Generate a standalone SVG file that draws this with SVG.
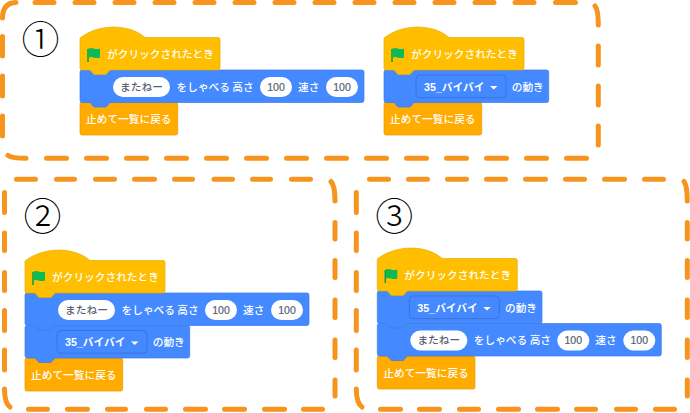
<svg xmlns="http://www.w3.org/2000/svg" width="690" height="413" viewBox="0 0 690 413">
<style>
text{font-family:"Noto Sans CJK JP","Liberation Sans",sans-serif;font-size:10.7px;fill:#fff;font-weight:500}
.dash{fill:none;stroke:#F7941D;stroke-width:5;stroke-linecap:round}
.hat{fill:#FFBF00;stroke:#E6AC00;stroke-width:.7}
.blue{fill:#4489FF;stroke:#3C7BE6;stroke-width:.7}
.stop{fill:#FFAB00;stroke:#E69A00;stroke-width:.7}
.gray{fill:#575E75;text-anchor:middle}
.num{font-family:"Liberation Sans",sans-serif;font-size:10.5px;fill:#575E75;text-anchor:middle;stroke:#575E75;stroke-width:.2}
.dd{fill:#4489FF;stroke:#3A74D9;stroke-width:1}
.ddt{font-family:"Liberation Sans","Noto Sans CJK JP",sans-serif;font-weight:700;font-size:10.7px}
.digit{font-family:"Noto Sans CJK JP",sans-serif;font-size:38px;fill:#000;font-weight:300;text-anchor:middle}
</style>
<defs>
<path id="hatShape" d="M0 0C18-14 48-15 65-.5H138Q140-.5 140 1.500V30Q140 32 138 32H30L26 36.500H14L10 32H2Q0 32 0 30Z"/>
<path id="speakShape" d="M2 0H282Q284 0 284 2V30Q284 32.500 282 32.500H30L26 37H14L10 32.500H2Q0 32.500 0 30V2Q0 0 2 0Z"/>
<path id="moveShape" d="M2 0H162.700Q164.700 0 164.700 2V30Q164.700 32.500 162.700 32.500H30L26 37H14L10 32.500H2Q0 32.500 0 30V2Q0 0 2 0Z"/>
<path id="stopShape" d="M2 0H95.700Q97.700 0 97.700 2V31Q97.700 33 95.700 33H2Q0 33 0 31V2Q0 0 2 0Z"/>
<g id="flag"><path d="M1 2V15" stroke="#0A9A45" stroke-width="1.500" fill="none"/><path d="M1.500 1.500C5 -.5 8 3.500 13 1.500V10.500C8 12.500 5 8.500 1.500 10.500Z" fill="#0CBB55"/></g>
</defs>
<g id="panels">
<path id="panel-1" class="dash" d="M2.500 18Q2.500 3 16 2.500M35 2.500H54M75 2.500H94M115 2.500H134M155 2.500H174M195 2.500H214M235 2.500H254M275 2.500H294M315 2.500H334M355 2.500H374M395 2.500H414M435 2.500H454M475 2.500H494M515 2.500H534M555.500 2.500H575.500M595 6Q598.300 10 598.300 25M598.300 46V65M598.300 86V105M598.300 126V145M586.500 158.300H566.500M546.500 158.300H526.500M506.500 158.300H486.500M466.500 158.300H446.500M426.500 158.300H406.500M386.500 158.300H366.500M346.500 158.300H326.500M306.500 158.300H286.500M266.500 158.300H246.500M226.500 158.300H206.500M186.500 158.300H166.500M146.500 158.300H126.500M106.500 158.300H86.500M66.500 158.300H46.500M26 158.300Q12 158.300 8 155.500M2.500 136V116M2.500 96V76M2.500 56V36.500"/>
<path id="panel-2" class="dash" d="M16.500 179.300H35.500M56.500 179.300H74.500M95.500 179.300H114.500M134.500 179.300H154.500M174.500 179.300H192.500M214 179.300H232.500M252.500 179.300H270.500M291.500 179.300H310.500M331 181.500Q335 186 335 201M335 222.500V239M335 260.500V277.500M335 300V317.500M335 340V357.500M335 380V396M322.500 409.300H303.500M284.500 409.300H264.500M244.500 409.300H224.500M205.500 409.300H185.500M165.500 409.300H146.500M125.500 409.300H107.500M87.500 409.300H67.500M47.500 409.300H28.500M10 407Q4.500 403 4.500 389M4.500 370V350M4.500 330.500V310.500M4.500 290.500V272.500M4.500 250.500V233M4.500 212.500V192.500"/>
<path id="panel-3" class="dash" d="M369.500 179.300H388.500M408.500 179.300H427.500M447.500 179.300H466.500M486.500 179.300H505.500M525.500 179.300H545.500M565.500 179.300H584.500M604.500 179.300H624.500M644.500 179.300H663.500M684 181.500Q687.300 186 687.300 201M687.300 222.500V239M687.300 260.500V277.500M687.300 300V317.500M687.300 340V357.500M687.300 380V396M674.500 409.300H655.500M635.500 409.300H616.500M595.500 409.300H576.500M557.500 409.300H537.500M518.500 409.300H498.500M478.500 409.300H459.500M439.500 409.300H419.500M400.500 409.300H380.500M362 407Q356.300 403 356.300 389M356.300 370V350M356.300 330.500V310.500M356.300 290.500V272.500M356.300 250.500V233M356.300 212.500V192.500"/>
</g>
<g id="label-1"><text class="digit" x="40.500" y="52.500">①</text></g>
<g id="label-2"><text class="digit" x="42.500" y="230">②</text></g>
<g id="label-3"><text class="digit" x="394.300" y="230">③</text></g>

<g id="stack-1a" transform="translate(80 38)">
<g id="s1a-stop" transform="translate(0 64)"><use href="#stopShape" class="stop"/><text x="6" y="20.500">止めて一覧に戻る</text></g>
<g id="s1a-speak" transform="translate(0 32)"><use href="#speakShape" class="blue"/><rect x="33" y="7" width="57" height="20" rx="10" fill="#fff"/><text class="gray" x="61.500" y="20.500">またねー</text><text x="96.500" y="20.500">をしゃべる 高さ</text><rect x="180" y="7" width="32" height="20" rx="10" fill="#fff"/><text class="num" x="196" y="20.800">100</text><text x="218" y="20.500">速さ</text><rect x="246" y="7" width="32" height="20" rx="10" fill="#fff"/><text class="num" x="262" y="20.800">100</text></g>
<g id="s1a-hat"><use href="#hatShape" class="hat"/><use href="#flag" x="7" y="9"/><text x="27" y="20">がクリックされたとき</text></g>
</g>

<g id="stack-1b" transform="translate(384 38)">
<g id="s1b-stop" transform="translate(0 64)"><use href="#stopShape" class="stop"/><text x="6" y="20.500">止めて一覧に戻る</text></g>
<g id="s1b-move" transform="translate(0 32)"><use href="#moveShape" class="blue"/><rect x="32" y="5" width="90" height="22.700" rx="4" class="dd"/><text class="ddt" x="40" y="20.500">35_バイバイ</text><path d="M106 16H113.500L109.700 19.500Z" fill="#fff"/><text x="127.700" y="20.500">の動き</text></g>
<g id="s1b-hat"><use href="#hatShape" class="hat"/><use href="#flag" x="7" y="9"/><text x="27" y="20">がクリックされたとき</text></g>
</g>

<g id="stack-2" transform="translate(25 261)">
<g id="s2-stop" transform="translate(0 97)"><use href="#stopShape" class="stop"/><text x="6" y="20.500">止めて一覧に戻る</text></g>
<g id="s2-move" transform="translate(0 64.500)"><use href="#moveShape" class="blue"/><rect x="32" y="5" width="90" height="22.700" rx="4" class="dd"/><text class="ddt" x="40" y="20.500">35_バイバイ</text><path d="M106 16H113.500L109.700 19.500Z" fill="#fff"/><text x="127.700" y="20.500">の動き</text></g>
<g id="s2-speak" transform="translate(0 32)"><use href="#speakShape" class="blue"/><rect x="33" y="7" width="57" height="20" rx="10" fill="#fff"/><text class="gray" x="61.500" y="20.500">またねー</text><text x="96.500" y="20.500">をしゃべる 高さ</text><rect x="180" y="7" width="32" height="20" rx="10" fill="#fff"/><text class="num" x="196" y="20.800">100</text><text x="218" y="20.500">速さ</text><rect x="246" y="7" width="32" height="20" rx="10" fill="#fff"/><text class="num" x="262" y="20.800">100</text></g>
<g id="s2-hat"><use href="#hatShape" class="hat"/><use href="#flag" x="7" y="9"/><text x="27" y="20">がクリックされたとき</text></g>
</g>

<g id="stack-3" transform="translate(377.300 259)">
<g id="s3-stop" transform="translate(0 97)"><use href="#stopShape" class="stop"/><text x="6" y="20.500">止めて一覧に戻る</text></g>
<g id="s3-speak" transform="translate(0 64.500)"><use href="#speakShape" class="blue"/><rect x="33" y="7" width="57" height="20" rx="10" fill="#fff"/><text class="gray" x="61.500" y="20.500">またねー</text><text x="96.500" y="20.500">をしゃべる 高さ</text><rect x="180" y="7" width="32" height="20" rx="10" fill="#fff"/><text class="num" x="196" y="20.800">100</text><text x="218" y="20.500">速さ</text><rect x="246" y="7" width="32" height="20" rx="10" fill="#fff"/><text class="num" x="262" y="20.800">100</text></g>
<g id="s3-move" transform="translate(0 32)"><use href="#moveShape" class="blue"/><rect x="32" y="5" width="90" height="22.700" rx="4" class="dd"/><text class="ddt" x="40" y="20.500">35_バイバイ</text><path d="M106 16H113.500L109.700 19.500Z" fill="#fff"/><text x="127.700" y="20.500">の動き</text></g>
<g id="s3-hat"><use href="#hatShape" class="hat"/><use href="#flag" x="7" y="9"/><text x="27" y="20">がクリックされたとき</text></g>
</g>
</svg>
